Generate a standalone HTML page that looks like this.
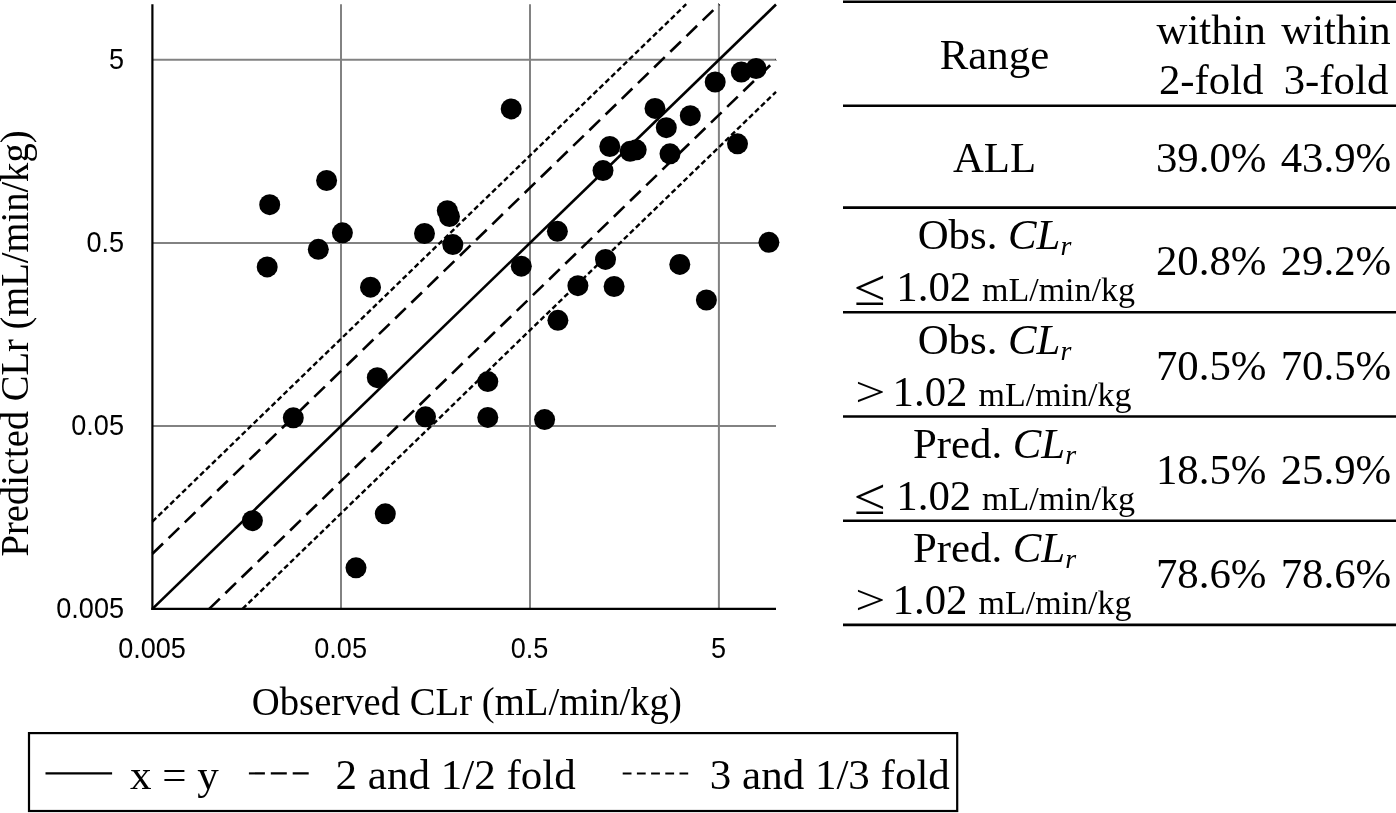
<!DOCTYPE html>
<html><head><meta charset="utf-8"><title>Predicted vs Observed CLr</title>
<style>html,body{margin:0;padding:0;background:#fff}svg{display:block}</style></head>
<body>
<svg width="1396" height="813" viewBox="0 0 1396 813">
<rect width="1396" height="813" fill="#fff"/>
<line x1="341.0" y1="4.2" x2="341.0" y2="608.9" stroke="#828282" stroke-width="2"/>
<line x1="530.0" y1="4.2" x2="530.0" y2="608.9" stroke="#828282" stroke-width="2"/>
<line x1="718.9" y1="4.2" x2="718.9" y2="608.9" stroke="#828282" stroke-width="2"/>
<line x1="152.4" y1="59.75" x2="776.0" y2="59.75" stroke="#828282" stroke-width="2"/>
<line x1="152.4" y1="242.9" x2="776.0" y2="242.9" stroke="#828282" stroke-width="2"/>
<line x1="152.4" y1="426.0" x2="776.0" y2="426.0" stroke="#828282" stroke-width="2"/>
<line x1="152.4" y1="4.2" x2="152.4" y2="609.9" stroke="#000" stroke-width="2.2"/>
<line x1="151.4" y1="608.9" x2="776.0" y2="608.9" stroke="#000" stroke-width="2.1"/>
<line x1="152.4" y1="608.9" x2="776.0" y2="4.5" stroke="#000" stroke-width="2.6"/>
<line x1="152.4" y1="553.8" x2="719.4" y2="4.2" stroke="#000" stroke-width="2.6" stroke-dasharray="14.8 7.74"/>
<line x1="209.2" y1="608.9" x2="776.0" y2="59.6" stroke="#000" stroke-width="2.6" stroke-dasharray="14.8 7.74"/>
<line x1="152.4" y1="521.6" x2="686.2" y2="4.2" stroke="#000" stroke-width="2.4" stroke-dasharray="5.3 3.0"/>
<line x1="242.5" y1="608.9" x2="776.0" y2="91.8" stroke="#000" stroke-width="2.4" stroke-dasharray="5.3 3.0"/>
<circle cx="326.6" cy="180.5" r="10.5" fill="#000"/>
<circle cx="269.7" cy="204.7" r="10.5" fill="#000"/>
<circle cx="342.4" cy="232.8" r="10.5" fill="#000"/>
<circle cx="318.3" cy="249.3" r="10.5" fill="#000"/>
<circle cx="267.2" cy="266.9" r="10.5" fill="#000"/>
<circle cx="370.5" cy="287.2" r="10.5" fill="#000"/>
<circle cx="424.5" cy="233.5" r="10.5" fill="#000"/>
<circle cx="447.3" cy="210.7" r="10.5" fill="#000"/>
<circle cx="449.5" cy="216.5" r="10.5" fill="#000"/>
<circle cx="452.8" cy="244.6" r="10.5" fill="#000"/>
<circle cx="511.2" cy="108.9" r="10.5" fill="#000"/>
<circle cx="603.0" cy="170.6" r="10.5" fill="#000"/>
<circle cx="609.8" cy="146.5" r="10.5" fill="#000"/>
<circle cx="630.1" cy="151.3" r="10.5" fill="#000"/>
<circle cx="636.2" cy="149.8" r="10.5" fill="#000"/>
<circle cx="655.0" cy="108.4" r="10.5" fill="#000"/>
<circle cx="666.3" cy="127.7" r="10.5" fill="#000"/>
<circle cx="670.0" cy="153.8" r="10.5" fill="#000"/>
<circle cx="690.3" cy="115.7" r="10.5" fill="#000"/>
<circle cx="715.2" cy="82.0" r="10.5" fill="#000"/>
<circle cx="737.5" cy="143.8" r="10.5" fill="#000"/>
<circle cx="741.3" cy="72.0" r="10.5" fill="#000"/>
<circle cx="756.1" cy="68.5" r="10.5" fill="#000"/>
<circle cx="557.4" cy="231.3" r="10.5" fill="#000"/>
<circle cx="521.3" cy="266.2" r="10.5" fill="#000"/>
<circle cx="605.5" cy="259.4" r="10.5" fill="#000"/>
<circle cx="577.9" cy="285.7" r="10.5" fill="#000"/>
<circle cx="614.1" cy="286.5" r="10.5" fill="#000"/>
<circle cx="679.8" cy="264.4" r="10.5" fill="#000"/>
<circle cx="706.4" cy="300.0" r="10.5" fill="#000"/>
<circle cx="768.9" cy="242.3" r="10.5" fill="#000"/>
<circle cx="557.9" cy="320.3" r="10.5" fill="#000"/>
<circle cx="377.3" cy="377.7" r="10.5" fill="#000"/>
<circle cx="293.3" cy="417.8" r="10.5" fill="#000"/>
<circle cx="425.5" cy="416.8" r="10.5" fill="#000"/>
<circle cx="487.8" cy="381.6" r="10.5" fill="#000"/>
<circle cx="487.8" cy="417.4" r="10.5" fill="#000"/>
<circle cx="252.4" cy="520.7" r="10.5" fill="#000"/>
<circle cx="385.3" cy="513.8" r="10.5" fill="#000"/>
<circle cx="544.6" cy="419.6" r="10.5" fill="#000"/>
<circle cx="356.0" cy="567.8" r="10.5" fill="#000"/>
<g font-family="'Liberation Sans', sans-serif" font-size="29.3" fill="#000">
<text x="124" y="68.8" text-anchor="end" textLength="15.0" lengthAdjust="spacingAndGlyphs">5</text>
<text x="124" y="252.0" text-anchor="end" textLength="37.6" lengthAdjust="spacingAndGlyphs">0.5</text>
<text x="124" y="435.1" text-anchor="end" textLength="52.7" lengthAdjust="spacingAndGlyphs">0.05</text>
<text x="124" y="618.0" text-anchor="end" textLength="67.7" lengthAdjust="spacingAndGlyphs">0.005</text>
<text x="152.0" y="657.6" text-anchor="middle" textLength="67.7" lengthAdjust="spacingAndGlyphs">0.005</text>
<text x="340.6" y="657.6" text-anchor="middle" textLength="52.7" lengthAdjust="spacingAndGlyphs">0.05</text>
<text x="529.6" y="657.6" text-anchor="middle" textLength="37.6" lengthAdjust="spacingAndGlyphs">0.5</text>
<text x="718.5" y="657.6" text-anchor="middle" textLength="15.0" lengthAdjust="spacingAndGlyphs">5</text>
</g>
<g font-family="'Liberation Serif', serif" fill="#000">
<text x="466.8" y="714.7" font-size="39.6" text-anchor="middle" textLength="430" lengthAdjust="spacingAndGlyphs">Observed CLr (mL/min/kg)</text>
<text transform="translate(27.6,343.5) rotate(-90)" font-size="40" text-anchor="middle" textLength="426" lengthAdjust="spacingAndGlyphs">Predicted CLr (mL/min/kg)</text>
<rect x="29" y="733.1" width="928.2" height="77.9" fill="none" stroke="#000" stroke-width="2.2"/>
<line x1="45.5" y1="773.4" x2="112.1" y2="773.4" stroke="#000" stroke-width="2.1"/>
<line x1="248.9" y1="773.4" x2="308.7" y2="773.4" stroke="#000" stroke-width="2.1" stroke-dasharray="16 5.9"/>
<line x1="622.7" y1="773.4" x2="688.2" y2="773.4" stroke="#000" stroke-width="2" stroke-dasharray="8.8 5.4"/>
<text x="130" y="788.5" font-size="43">x = y</text>
<text x="335.6" y="788.5" font-size="43">2 and 1/2 fold</text>
<text x="709.8" y="788.5" font-size="43">3 and 1/3 fold</text>
<line x1="843" y1="1.7" x2="1396" y2="1.7" stroke="#000" stroke-width="2.6"/>
<line x1="843" y1="105.7" x2="1396" y2="105.7" stroke="#000" stroke-width="2.6"/>
<line x1="843" y1="207.6" x2="1396" y2="207.6" stroke="#000" stroke-width="2.6"/>
<line x1="843" y1="312.3" x2="1396" y2="312.3" stroke="#000" stroke-width="2.6"/>
<line x1="843" y1="416.5" x2="1396" y2="416.5" stroke="#000" stroke-width="2.6"/>
<line x1="843" y1="520.8" x2="1396" y2="520.8" stroke="#000" stroke-width="2.6"/>
<line x1="843" y1="624.9" x2="1396" y2="624.9" stroke="#000" stroke-width="2.6"/>
<g font-size="42.8" text-anchor="middle">
<text x="994.5" y="69.2">Range</text>
<text x="1211.2" y="43.6">within</text><text x="1211.2" y="93.8">2-fold</text>
<text x="1336" y="43.6">within</text><text x="1336" y="93.8">3-fold</text>
<text x="994.5" y="172">ALL</text><text x="1211.2" y="172">39.0%</text><text x="1336" y="172">43.9%</text>
</g>
<text x="994.5" y="249.2" font-size="42.8" text-anchor="middle">Obs. <tspan font-style="italic">CL</tspan><tspan font-style="italic" font-size="28" dy="5.7">r</tspan></text>
<text transform="translate(854.0,305.4) scale(1.34,1.2)" font-size="42.8">≤</text>
<text x="896.3" y="300.8" font-size="42.8">1.02</text>
<text x="982" y="300.8" font-size="34">mL/min/kg</text>
<text x="1211.2" y="274.8" font-size="42.8" text-anchor="middle">20.8%</text><text x="1336" y="274.8" font-size="42.8" text-anchor="middle">29.2%</text>
<text x="994.5" y="353.9" font-size="42.8" text-anchor="middle">Obs. <tspan font-style="italic">CL</tspan><tspan font-style="italic" font-size="28" dy="5.7">r</tspan></text>
<text transform="translate(855.3,405.5) scale(1.25,1)" font-size="42.8">&gt;</text>
<text x="892.6" y="405.5" font-size="42.8">1.02</text>
<text x="978.5" y="405.5" font-size="34">mL/min/kg</text>
<text x="1211.2" y="379.5" font-size="42.8" text-anchor="middle">70.5%</text><text x="1336" y="379.5" font-size="42.8" text-anchor="middle">70.5%</text>
<text x="994.5" y="458.1" font-size="42.8" text-anchor="middle">Pred. <tspan font-style="italic">CL</tspan><tspan font-style="italic" font-size="28" dy="5.7">r</tspan></text>
<text transform="translate(854.0,514.3) scale(1.34,1.2)" font-size="42.8">≤</text>
<text x="896.3" y="509.7" font-size="42.8">1.02</text>
<text x="982" y="509.7" font-size="34">mL/min/kg</text>
<text x="1211.2" y="483.7" font-size="42.8" text-anchor="middle">18.5%</text><text x="1336" y="483.7" font-size="42.8" text-anchor="middle">25.9%</text>
<text x="994.5" y="562.4" font-size="42.8" text-anchor="middle">Pred. <tspan font-style="italic">CL</tspan><tspan font-style="italic" font-size="28" dy="5.7">r</tspan></text>
<text transform="translate(855.3,614.0) scale(1.25,1)" font-size="42.8">&gt;</text>
<text x="892.6" y="614.0" font-size="42.8">1.02</text>
<text x="978.5" y="614.0" font-size="34">mL/min/kg</text>
<text x="1211.2" y="588.0" font-size="42.8" text-anchor="middle">78.6%</text><text x="1336" y="588.0" font-size="42.8" text-anchor="middle">78.6%</text>
</g>
</svg>
</body></html>
